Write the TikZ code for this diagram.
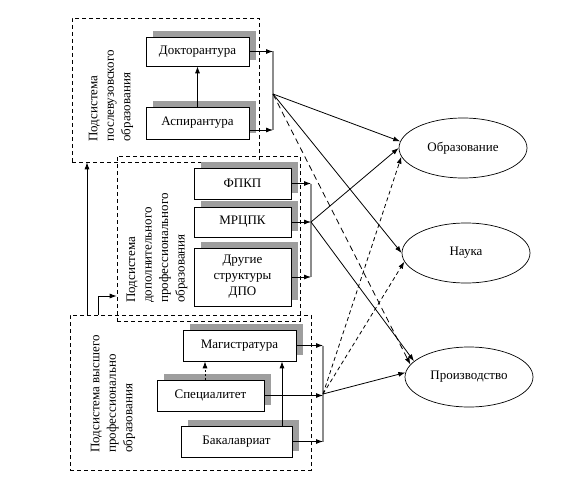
\documentclass[tikz,border=0pt]{standalone}
\usepackage{fontspec}
\setmainfont{Liberation Serif}
\usetikzlibrary{arrows.meta,shapes.geometric,shadows}

\begin{document}
\begin{tikzpicture}[
  x=1pt,
  y=-1pt,
  every node/.style={font=\fontsize{13}{16}\selectfont},
  subsys/.style={draw, dash pattern=on 4pt off 3pt, line width=0.6pt, inner sep=0pt},
  unit/.style={draw, fill=white, line width=0.7pt, inner sep=2pt, drop shadow={shadow xshift=7pt, shadow yshift=6pt, fill=black!38, opacity=1}},
  goal/.style={ellipse, draw, line width=0.7pt, minimum width=128pt, minimum height=60pt},
  sublabel/.style={rotate=90, align=left, font=\fontsize{13}{16.5}\selectfont},
  arr/.style={-{Latex[length=7pt,width=5pt]}, line width=0.8pt},
  darr/.style={arr, dash pattern=on 6pt off 4pt},
  collector/.style={draw=black!45, line width=1.3pt}
]
\useasboundingbox (0,0) rectangle (588,476);

% subsystems
\node[subsys, minimum width=187pt, minimum height=144pt] (sysPG) at (165.5,90) {};
\node[subsys, minimum width=183pt, minimum height=165pt] (sysDPO) at (208.5,238.5) {};
\node[subsys, minimum width=241pt, minimum height=155pt] (sysHE) at (190.5,392.5) {};
\node[sublabel] (lblPG) at (111,96) {Подсистема\\послевузовского\\образования};
\node[sublabel] (lblDPO) at (157,248) {Подсистема\\дополнительного\\профессионального\\образования};
\node[sublabel] (lblHE) at (113,394) {Подсистема высшего\\профессионально\\образования};

% units
\node[unit, minimum width=103pt, minimum height=29pt] (dokt) at (197.5,51.5) {Докторантура};
\node[unit, minimum width=103pt, minimum height=32pt] (asp) at (197.5,123) {Аспирантура};
\node[unit, minimum width=97pt, minimum height=31pt] (fpkp) at (242.5,183.5) {ФПКП};
\node[unit, minimum width=97pt, minimum height=30pt] (mrcpk) at (242.5,222) {МРЦПК};
\node[unit, minimum width=97pt, minimum height=58pt, align=center] (other) at (242.5,277) {Другие\\структуры\\ДПО};
\node[unit, minimum width=113pt, minimum height=31pt] (mag) at (239.5,345.5) {Магистратура};
\node[unit, minimum width=107pt, minimum height=31pt] (spec) at (210.5,395.5) {Специалитет};
\node[unit, minimum width=111pt, minimum height=31pt] (bak) at (236.5,441.5) {Бакалавриат};

% goals
\node[goal] (obr) at (463,148) {Образование};
\node[goal] (nauka) at (466,253) {Наука};
\node[goal] (proizv) at (469,377) {Производство};

% collectors
\coordinate (hubPG) at (273,94);
\coordinate (hubDPO) at (311,222);
\coordinate (hubHE) at (323,394);
\coordinate (aspOut) at ([yshift=-7pt]asp.east);
\draw[collector] (dokt.east -| hubPG) -- (aspOut -| hubPG);
\draw[arr] (dokt.east) -- (dokt.east -| hubPG);
\draw[arr] (aspOut) -- (aspOut -| hubPG);
\draw[arr] (asp) -- (dokt);

\draw[collector] (fpkp.east -| hubDPO) -- (other.east -| hubDPO);
\foreach \n in {fpkp,mrcpk,other}
  \draw[arr] (\n.east) -- (\n.east -| hubDPO);

\draw[collector] (mag.east -| hubHE) -- (bak.east -| hubHE);
\foreach \n in {mag,spec,bak}
  \draw[arr] (\n.east) -- (\n.east -| hubHE);
\coordinate (specUp) at (205,0);
\coordinate (bakUp) at (282,0);
\draw[arr, dash pattern=on 2pt off 2pt] (specUp |- spec.north) -- (specUp |- mag.south);
\draw[arr] (bakUp |- bak.north) -- (bakUp |- mag.south);

% between subsystems
\coordinate (riseA) at (87,0);
\coordinate (riseB) at (98,296);
\draw[arr] (riseA |- sysHE.north) -- (riseA |- sysPG.south);
\draw[arr] (riseB |- sysHE.north) -- (riseB) -- (riseB -| sysDPO.west);

% to the goals
\draw[arr] (hubPG) -- (obr.174);
\draw[arr] (hubPG) -- (nauka.west);
\draw[darr] (hubPG) -- (proizv.168);
\draw[arr] (hubDPO) -- (obr.west);
\draw[arr] (hubDPO) -- (proizv.164);
\draw[arr] (hubHE) -- (proizv.176);
\draw[darr, dash pattern=on 4pt off 3pt] (hubHE) -- (obr.188);
\draw[darr, dash pattern=on 4pt off 3pt] (hubHE) -- (nauka.188);
\end{tikzpicture}
\end{document}
